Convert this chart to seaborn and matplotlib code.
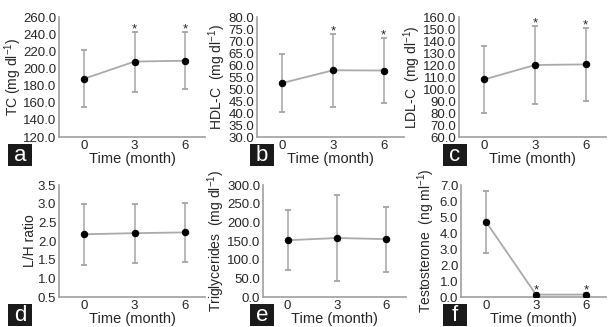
import numpy as np
import pandas as pd
import matplotlib
matplotlib.use("Agg")
import matplotlib.pyplot as plt
from matplotlib.patches import Rectangle
import seaborn as sns

sns.set_style("white")
plt.rcParams["font.family"] = ["Liberation Sans", "DejaVu Sans"]
plt.rcParams["mathtext.fontset"] = "custom"
plt.rcParams["mathtext.rm"] = "Liberation Sans"
plt.rcParams["mathtext.it"] = "Liberation Sans:italic"

# data (mean and SD at 0, 3, 6 months)
months = [0, 3, 6]

tc_mean = [188.0, 208.0, 209.0]
tc_sd = [33.0, 35.0, 33.5]

hdl_mean = [52.5, 57.8, 57.7]
hdl_sd = [12.0, 15.2, 13.5]

ldl_mean = [108.0, 120.0, 120.5]
ldl_sd = [28.0, 32.5, 30.5]

lh_mean = [2.18, 2.21, 2.23]
lh_sd = [0.81, 0.79, 0.78]

tg_mean = [152.0, 158.0, 155.0]
tg_sd = [80.0, 115.0, 87.0]

testo_mean = [4.70, 0.15, 0.15]
testo_sd = [1.95, 0.10, 0.08]

tc_stars = [False, True, True]
hdl_stars = [False, True, True]
ldl_stars = [False, True, True]
lh_stars = [False, False, False]
tg_stars = [False, False, False]
testo_stars = [False, True, True]

W, H = 608, 327
fig = plt.figure(figsize=(W / 100, H / 100), dpi=100)


def px_axes(left, top, width, height):
    return fig.add_axes([left / W, 1 - (top + height) / H, width / W, height / H])


def panel(ax, mean, sd, stars, ylabel, ylim, step, letter, box_x, box_y, lab_x):
    df = pd.DataFrame({"month": months, "mean": mean, "sd": sd})
    ax.errorbar(df["month"], df["mean"], yerr=df["sd"], fmt="none",
                ecolor="#a5a5a5", elinewidth=1.1, capsize=2, capthick=1.3, zorder=1)
    # black caps
    for line in ax.lines:
        line.set_color("#222222")
    sns.lineplot(data=df, x="month", y="mean", ax=ax, color="#aaaaaa", lw=1.3,
                 marker="o", markersize=4.6, markerfacecolor="black",
                 markeredgecolor="black", zorder=3)
    for x, m, s, st in zip(months, mean, sd, stars):
        if st:
            ax.annotate("*", (x, m + s), xytext=(0, -2.5), textcoords="offset points",
                        ha="center", va="bottom", fontsize=9.5)
    ax.set_xlim(-1.5, 7.2)
    ax.set_ylim(*ylim)
    ax.set_xticks(months)
    ax.set_yticks(np.arange(ylim[0], ylim[1] + step / 2, step))
    ax.yaxis.set_major_formatter(matplotlib.ticker.FormatStrFormatter("%.1f"))
    ax.tick_params(length=0, labelsize=9.5, pad=2)
    ax.set_xlabel("Time (month)", fontsize=10.5, labelpad=0)
    ax.set_ylabel(ylabel, fontsize=10)
    ax.yaxis.set_label_coords(lab_x, 0.5)
    sns.despine(ax=ax)
    for sp in ("left", "bottom"):
        ax.spines[sp].set_color("#a0a0a0")
        ax.spines[sp].set_linewidth(1.2)
    fig.patches.append(Rectangle((box_x / W, 1 - (box_y + 22) / H), 24 / W, 22 / H,
                                 transform=fig.transFigure, facecolor="#1a1a1a",
                                 edgecolor="none"))
    fig.text((box_x + 12) / W, 1 - (box_y + 11.5) / H, letter, color="white",
             fontsize=16, ha="center", va="center")


unit_mg = "(mg dl$^{\\mathregular{-1}}$)"
unit_ng = "(ng ml$^{\\mathregular{-1}}$)"

panel(px_axes(59, 17, 146, 120), tc_mean, tc_sd, tc_stars,
      "TC " + unit_mg, (120, 260), 20, "a", 8, 144, -0.24)
panel(px_axes(257, 17, 147, 120), hdl_mean, hdl_sd, hdl_stars,
      "HDL-C  " + unit_mg, (30, 80), 5, "b", 250, 144, -0.2)
panel(px_axes(459, 17, 147, 120), ldl_mean, ldl_sd, ldl_stars,
      "LDL-C  " + unit_mg, (60, 160), 10, "c", 443, 144, -0.245)
panel(px_axes(59, 185, 146, 112), lh_mean, lh_sd, lh_stars,
      "L/H ratio", (0.5, 3.5), 0.5, "d", 8, 304, -0.15)
panel(px_axes(263, 185, 143, 112), tg_mean, tg_sd, tg_stars,
      "Triglycerides  " + unit_mg, (0, 300), 50, "e", 250, 304, -0.25)
panel(px_axes(461, 185, 145, 112), testo_mean, testo_sd, testo_stars,
      "Testosterone  " + unit_ng, (0, 7), 1, "f", 443, 304, -0.165)

fig.savefig("out.png", dpi=100)
